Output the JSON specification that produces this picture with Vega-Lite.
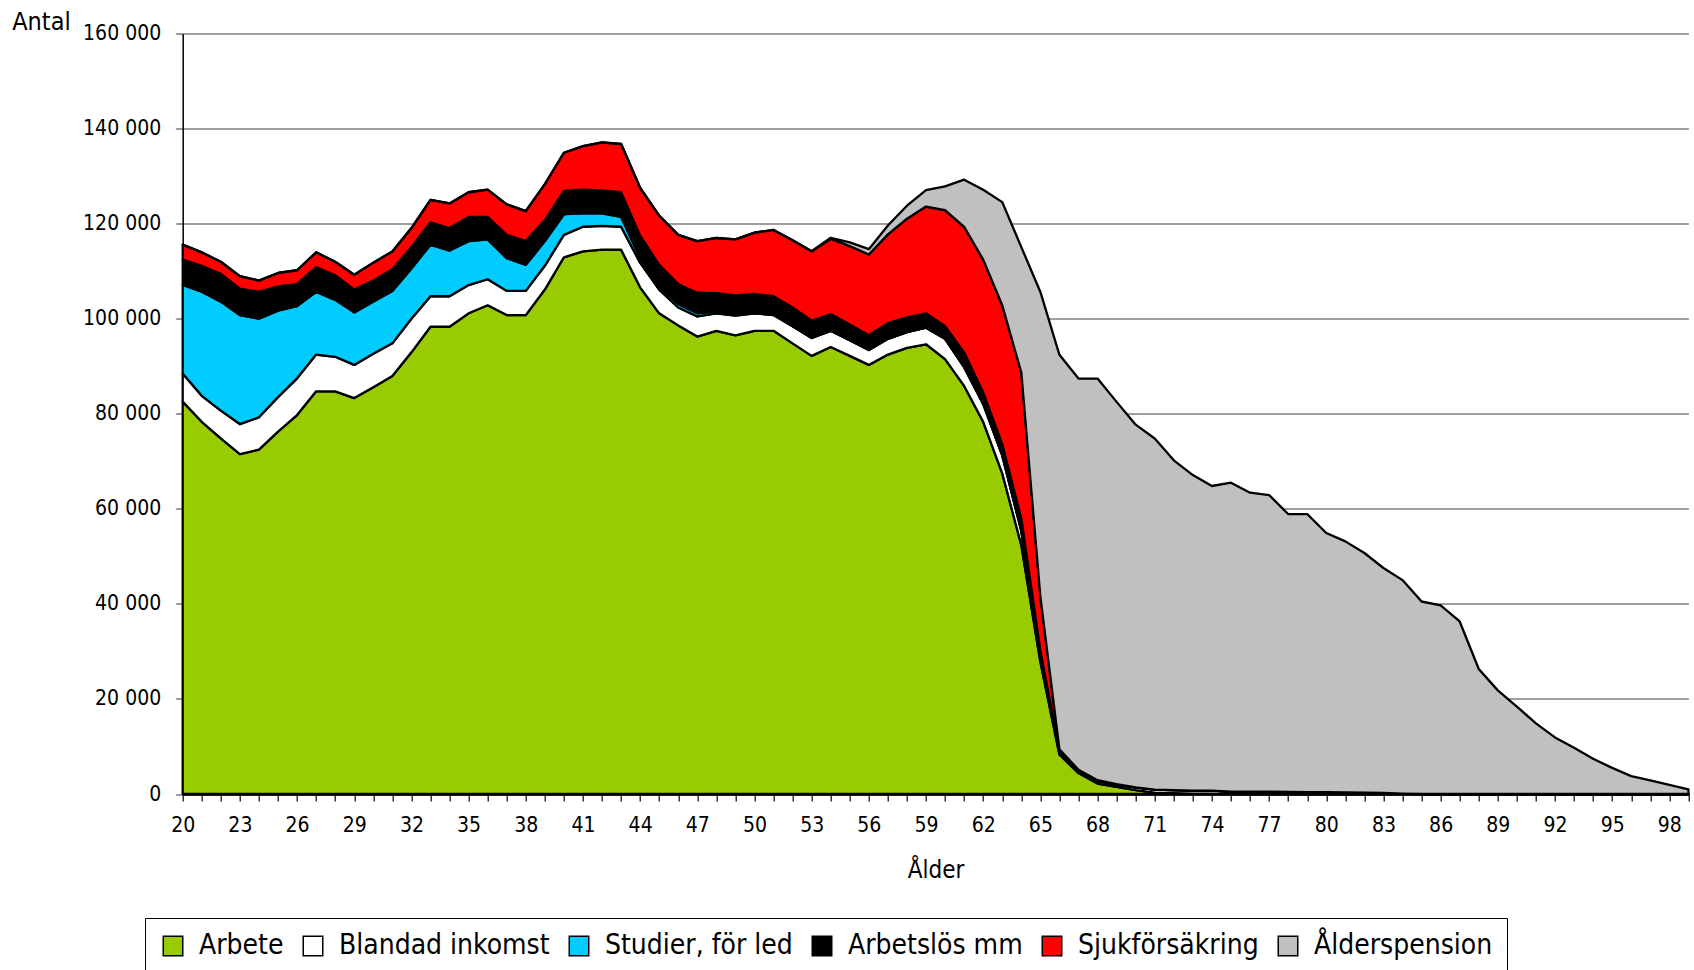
{
  "$schema": "https://vega.github.io/schema/vega-lite/v6.json",
  "autosize": "none",
  "width": 1505.7,
  "height": 760.5,
  "padding": {"left": 182.7, "top": 33.5, "right": 5.6, "bottom": 176},
  "background": "white",
  "config": {
    "font": "DejaVu Sans Condensed, sans-serif",
    "view": {"stroke": null}
  },
  "datasets": {
    "kategorier": [
      {"kod": "Arbete", "typ": "Arbete", "nr": 1},
      {"kod": "Blandad", "typ": "Blandad inkomst", "nr": 2},
      {"kod": "Studier", "typ": "Studier, för led", "nr": 3},
      {"kod": "Arbetslos", "typ": "Arbetslös mm", "nr": 4},
      {"kod": "Sjuk", "typ": "Sjukförsäkring", "nr": 5},
      {"kod": "Alder", "typ": "Ålderspension", "nr": 6}
    ]
  },
  "data": {"values": [
    {"a": 20, "Arbete": 82550, "Blandad": 5940, "Studier": 18590, "Arbetslos": 5370, "Sjuk": 3120, "Alder": 0},
    {"a": 21, "Arbete": 78300, "Blandad": 5470, "Studier": 21890, "Arbetslos": 5470, "Sjuk": 2830, "Alder": 0},
    {"a": 22, "Arbete": 74810, "Blandad": 5850, "Studier": 22930, "Arbetslos": 5840, "Sjuk": 2550, "Alder": 0},
    {"a": 23, "Arbete": 71510, "Blandad": 6320, "Studier": 22930, "Arbetslos": 5560, "Sjuk": 2640, "Alder": 0},
    {"a": 24, "Arbete": 72450, "Blandad": 6800, "Studier": 20750, "Arbetslos": 5660, "Sjuk": 2360, "Alder": 0},
    {"a": 25, "Arbete": 76230, "Blandad": 7260, "Studier": 18210, "Arbetslos": 5090, "Sjuk": 2830, "Alder": 0},
    {"a": 26, "Arbete": 79720, "Blandad": 7730, "Studier": 15190, "Arbetslos": 4620, "Sjuk": 2930, "Alder": 0},
    {"a": 27, "Arbete": 84720, "Blandad": 7730, "Studier": 13210, "Arbetslos": 5190, "Sjuk": 3110, "Alder": 0},
    {"a": 28, "Arbete": 84720, "Blandad": 7260, "Studier": 11980, "Arbetslos": 5190, "Sjuk": 2830, "Alder": 0},
    {"a": 29, "Arbete": 83300, "Blandad": 6980, "Studier": 11040, "Arbetslos": 4810, "Sjuk": 3120, "Alder": 0},
    {"a": 30, "Arbete": 85570, "Blandad": 7070, "Studier": 10950, "Arbetslos": 4430, "Sjuk": 3770, "Alder": 0},
    {"a": 31, "Arbete": 87930, "Blandad": 6880, "Studier": 11040, "Arbetslos": 4530, "Sjuk": 3770, "Alder": 0},
    {"a": 32, "Arbete": 92920, "Blandad": 7080, "Studier": 10570, "Arbetslos": 4520, "Sjuk": 3970, "Alder": 0},
    {"a": 33, "Arbete": 98300, "Blandad": 6420, "Studier": 10850, "Arbetslos": 4710, "Sjuk": 4720, "Alder": 0},
    {"a": 34, "Arbete": 98300, "Blandad": 6420, "Studier": 9620, "Arbetslos": 4720, "Sjuk": 5190, "Alder": 0},
    {"a": 35, "Arbete": 101130, "Blandad": 5950, "Studier": 9240, "Arbetslos": 5100, "Sjuk": 5180, "Alder": 0},
    {"a": 36, "Arbete": 102830, "Blandad": 5470, "Studier": 8400, "Arbetslos": 4720, "Sjuk": 5750, "Alder": 0},
    {"a": 37, "Arbete": 100760, "Blandad": 5090, "Studier": 6890, "Arbetslos": 4900, "Sjuk": 6420, "Alder": 0},
    {"a": 38, "Arbete": 100760, "Blandad": 5090, "Studier": 5470, "Arbetslos": 5000, "Sjuk": 6320, "Alder": 0},
    {"a": 39, "Arbete": 106130, "Blandad": 5000, "Studier": 5190, "Arbetslos": 4430, "Sjuk": 7550, "Alder": 0},
    {"a": 40, "Arbete": 112920, "Blandad": 4720, "Studier": 4340, "Arbetslos": 4910, "Sjuk": 8020, "Alder": 0},
    {"a": 41, "Arbete": 114150, "Blandad": 5190, "Studier": 2830, "Arbetslos": 5000, "Sjuk": 9150, "Alder": 0},
    {"a": 42, "Arbete": 114530, "Blandad": 5000, "Studier": 2640, "Arbetslos": 4810, "Sjuk": 10090, "Alder": 0},
    {"a": 43, "Arbete": 114530, "Blandad": 4810, "Studier": 2080, "Arbetslos": 5180, "Sjuk": 10190, "Alder": 0},
    {"a": 44, "Arbete": 106600, "Blandad": 5190, "Studier": 950, "Arbetslos": 4710, "Sjuk": 10100, "Alder": 0},
    {"a": 45, "Arbete": 101130, "Blandad": 5000, "Studier": 660, "Arbetslos": 4530, "Sjuk": 10380, "Alder": 0},
    {"a": 46, "Arbete": 98590, "Blandad": 3770, "Studier": 750, "Arbetslos": 4150, "Sjuk": 10380, "Alder": 0},
    {"a": 47, "Arbete": 96230, "Blandad": 4240, "Studier": 660, "Arbetslos": 4340, "Sjuk": 10850, "Alder": 0},
    {"a": 48, "Arbete": 97450, "Blandad": 3680, "Studier": 470, "Arbetslos": 3780, "Sjuk": 11600, "Alder": 0},
    {"a": 49, "Arbete": 96510, "Blandad": 4150, "Studier": 470, "Arbetslos": 3780, "Sjuk": 11790, "Alder": 0},
    {"a": 50, "Arbete": 97450, "Blandad": 3680, "Studier": 280, "Arbetslos": 3780, "Sjuk": 12920, "Alder": 0},
    {"a": 51, "Arbete": 97450, "Blandad": 3310, "Studier": 90, "Arbetslos": 3870, "Sjuk": 13960, "Alder": 0},
    {"a": 52, "Arbete": 94810, "Blandad": 3590, "Studier": 50, "Arbetslos": 3910, "Sjuk": 14150, "Alder": 0},
    {"a": 53, "Arbete": 92170, "Blandad": 3770, "Studier": 30, "Arbetslos": 3590, "Sjuk": 14620, "Alder": 0},
    {"a": 54, "Arbete": 94060, "Blandad": 3390, "Studier": 20, "Arbetslos": 3490, "Sjuk": 15850, "Alder": 210},
    {"a": 55, "Arbete": 92170, "Blandad": 3300, "Studier": 0, "Arbetslos": 3300, "Sjuk": 16510, "Alder": 760},
    {"a": 56, "Arbete": 90280, "Blandad": 3120, "Studier": 0, "Arbetslos": 3110, "Sjuk": 16980, "Alder": 1130},
    {"a": 57, "Arbete": 92450, "Blandad": 3310, "Studier": 0, "Arbetslos": 3300, "Sjuk": 18680, "Alder": 1880},
    {"a": 58, "Arbete": 93870, "Blandad": 3300, "Studier": 0, "Arbetslos": 3110, "Sjuk": 20760, "Alder": 2730},
    {"a": 59, "Arbete": 94620, "Blandad": 3490, "Studier": 0, "Arbetslos": 3020, "Sjuk": 22460, "Alder": 3480},
    {"a": 60, "Arbete": 91510, "Blandad": 4250, "Studier": 0, "Arbetslos": 2640, "Sjuk": 24430, "Alder": 5000},
    {"a": 61, "Arbete": 85850, "Blandad": 3960, "Studier": 0, "Arbetslos": 3110, "Sjuk": 26420, "Alder": 9910},
    {"a": 62, "Arbete": 78300, "Blandad": 3780, "Studier": 0, "Arbetslos": 2350, "Sjuk": 28000, "Alder": 14700},
    {"a": 63, "Arbete": 67450, "Blandad": 3780, "Studier": 0, "Arbetslos": 2360, "Sjuk": 29240, "Alder": 21700},
    {"a": 64, "Arbete": 52360, "Blandad": 3000, "Studier": 0, "Arbetslos": 2600, "Sjuk": 30700, "Alder": 26400},
    {"a": 65, "Arbete": 27830, "Blandad": 900, "Studier": 0, "Arbetslos": 1400, "Sjuk": 11400, "Alder": 64100},
    {"a": 66, "Arbete": 8300, "Blandad": 300, "Studier": 0, "Arbetslos": 500, "Sjuk": 300, "Alder": 83000},
    {"a": 67, "Arbete": 4400, "Blandad": 400, "Studier": 0, "Arbetslos": 300, "Sjuk": 0, "Alder": 82300},
    {"a": 68, "Arbete": 2200, "Blandad": 500, "Studier": 0, "Arbetslos": 200, "Sjuk": 0, "Alder": 84500},
    {"a": 69, "Arbete": 1500, "Blandad": 500, "Studier": 0, "Arbetslos": 100, "Sjuk": 0, "Alder": 80400},
    {"a": 70, "Arbete": 800, "Blandad": 600, "Studier": 0, "Arbetslos": 0, "Sjuk": 0, "Alder": 76300},
    {"a": 71, "Arbete": 300, "Blandad": 600, "Studier": 0, "Arbetslos": 0, "Sjuk": 0, "Alder": 73900},
    {"a": 72, "Arbete": 200, "Blandad": 600, "Studier": 0, "Arbetslos": 0, "Sjuk": 0, "Alder": 69400},
    {"a": 73, "Arbete": 100, "Blandad": 600, "Studier": 0, "Arbetslos": 0, "Sjuk": 0, "Alder": 66400},
    {"a": 74, "Arbete": 100, "Blandad": 600, "Studier": 0, "Arbetslos": 0, "Sjuk": 0, "Alder": 64100},
    {"a": 75, "Arbete": 0, "Blandad": 500, "Studier": 0, "Arbetslos": 0, "Sjuk": 0, "Alder": 65000},
    {"a": 76, "Arbete": 0, "Blandad": 500, "Studier": 0, "Arbetslos": 0, "Sjuk": 0, "Alder": 62900},
    {"a": 77, "Arbete": 0, "Blandad": 500, "Studier": 0, "Arbetslos": 0, "Sjuk": 0, "Alder": 62400},
    {"a": 78, "Arbete": 0, "Blandad": 450, "Studier": 0, "Arbetslos": 0, "Sjuk": 0, "Alder": 58450},
    {"a": 79, "Arbete": 0, "Blandad": 400, "Studier": 0, "Arbetslos": 0, "Sjuk": 0, "Alder": 58500},
    {"a": 80, "Arbete": 0, "Blandad": 400, "Studier": 0, "Arbetslos": 0, "Sjuk": 0, "Alder": 54500},
    {"a": 81, "Arbete": 0, "Blandad": 350, "Studier": 0, "Arbetslos": 0, "Sjuk": 0, "Alder": 52800},
    {"a": 82, "Arbete": 0, "Blandad": 300, "Studier": 0, "Arbetslos": 0, "Sjuk": 0, "Alder": 50400},
    {"a": 83, "Arbete": 0, "Blandad": 250, "Studier": 0, "Arbetslos": 0, "Sjuk": 0, "Alder": 47300},
    {"a": 84, "Arbete": 0, "Blandad": 100, "Studier": 0, "Arbetslos": 0, "Sjuk": 0, "Alder": 44900},
    {"a": 85, "Arbete": 0, "Blandad": 0, "Studier": 0, "Arbetslos": 0, "Sjuk": 0, "Alder": 40500},
    {"a": 86, "Arbete": 0, "Blandad": 0, "Studier": 0, "Arbetslos": 0, "Sjuk": 0, "Alder": 39700},
    {"a": 87, "Arbete": 0, "Blandad": 0, "Studier": 0, "Arbetslos": 0, "Sjuk": 0, "Alder": 36300},
    {"a": 88, "Arbete": 0, "Blandad": 0, "Studier": 0, "Arbetslos": 0, "Sjuk": 0, "Alder": 26300},
    {"a": 89, "Arbete": 0, "Blandad": 0, "Studier": 0, "Arbetslos": 0, "Sjuk": 0, "Alder": 21800},
    {"a": 90, "Arbete": 0, "Blandad": 0, "Studier": 0, "Arbetslos": 0, "Sjuk": 0, "Alder": 18400},
    {"a": 91, "Arbete": 0, "Blandad": 0, "Studier": 0, "Arbetslos": 0, "Sjuk": 0, "Alder": 14850},
    {"a": 92, "Arbete": 0, "Blandad": 0, "Studier": 0, "Arbetslos": 0, "Sjuk": 0, "Alder": 11900},
    {"a": 93, "Arbete": 0, "Blandad": 0, "Studier": 0, "Arbetslos": 0, "Sjuk": 0, "Alder": 9750},
    {"a": 94, "Arbete": 0, "Blandad": 0, "Studier": 0, "Arbetslos": 0, "Sjuk": 0, "Alder": 7400},
    {"a": 95, "Arbete": 0, "Blandad": 0, "Studier": 0, "Arbetslos": 0, "Sjuk": 0, "Alder": 5500},
    {"a": 96, "Arbete": 0, "Blandad": 0, "Studier": 0, "Arbetslos": 0, "Sjuk": 0, "Alder": 3750},
    {"a": 97, "Arbete": 0, "Blandad": 0, "Studier": 0, "Arbetslos": 0, "Sjuk": 0, "Alder": 2850},
    {"a": 98, "Arbete": 0, "Blandad": 0, "Studier": 0, "Arbetslos": 0, "Sjuk": 0, "Alder": 1900},
    {"a": 99, "Arbete": 0, "Blandad": 0, "Studier": 0, "Arbetslos": 0, "Sjuk": 0, "Alder": 950}
  ]},
  "transform": [
    {"fold": ["Arbete", "Blandad", "Studier", "Arbetslos", "Sjuk", "Alder"], "as": ["kod", "antal"]},
    {"lookup": "kod", "from": {"data": {"name": "kategorier"}, "key": "kod", "fields": ["typ", "nr"]}}
  ],
  "mark": {"type": "area", "stroke": "black", "strokeWidth": 2.3, "strokeJoin": "round", "opacity": 1},
  "encoding": {
    "x": {
      "field": "a", "type": "quantitative",
      "scale": {"domain": [20, 99], "nice": false, "zero": false},
      "axis": {
        "title": "Ålder",
        "titleFontSize": 24, "titleFontWeight": "normal", "titleColor": "black", "titlePadding": 23,
        "values": [20,21,22,23,24,25,26,27,28,29,30,31,32,33,34,35,36,37,38,39,40,41,42,43,44,45,46,47,48,49,50,51,52,53,54,55,56,57,58,59,60,61,62,63,64,65,66,67,68,69,70,71,72,73,74,75,76,77,78,79,80,81,82,83,84,85,86,87,88,89,90,91,92,93,94,95,96,97,98,99],
        "labelExpr": "(datum.value - 20) % 3 == 0 ? datum.label : ''",
        "labelOverlap": false, "labelBound": false, "labelFlush": false,
        "labelFontSize": 21, "labelColor": "black", "labelPadding": 13,
        "grid": false,
        "domainColor": "black", "domainWidth": 2.5,
        "tickColor": "black", "tickSize": 7, "tickWidth": 1.2
      }
    },
    "y": {
      "field": "antal", "type": "quantitative", "stack": "zero",
      "scale": {"domain": [0, 160000], "nice": false},
      "axis": {
        "title": "Antal", "titleAngle": 0, "titleAlign": "left", "titleBaseline": "alphabetic",
        "titleX": -171, "titleY": -4, "titleFontSize": 25, "titleFontWeight": "normal", "titleColor": "black",
        "values": [0, 20000, 40000, 60000, 80000, 100000, 120000, 140000, 160000],
        "labelExpr": "datum.value == 0 ? '0' : floor(datum.value / 1000) + ' 000'",
        "labelFontSize": 21, "labelColor": "black", "labelPadding": 15,
        "grid": true, "gridColor": "#7f7f7f", "gridWidth": 1.5,
        "domainColor": "black", "domainWidth": 1.5,
        "tickColor": "#555555", "tickSize": 7, "tickWidth": 1.2
      }
    },
    "color": {
      "field": "typ", "type": "nominal",
      "scale": {
        "domain": ["Arbete", "Blandad inkomst", "Studier, för led", "Arbetslös mm", "Sjukförsäkring", "Ålderspension"],
        "range": ["#99cc00", "#ffffff", "#00ccff", "#000000", "#ff0000", "#c0c0c0"]
      },
      "legend": {
        "title": null, "orient": "none", "direction": "horizontal", "columns": 6,
        "legendX": -37.7, "legendY": 884.5,
        "symbolType": "square", "symbolSize": 380, "symbolStrokeColor": "black", "symbolStrokeWidth": 1.5, "symbolOpacity": 1,
        "labelFontSize": 28, "labelColor": "black", "labelOffset": 12, "columnPadding": 15, "labelLimit": 500,
        "padding": 14, "strokeColor": "black", "fillColor": "white"
      }
    },
    "order": {"field": "nr", "type": "quantitative", "sort": "ascending"}
  }
}
